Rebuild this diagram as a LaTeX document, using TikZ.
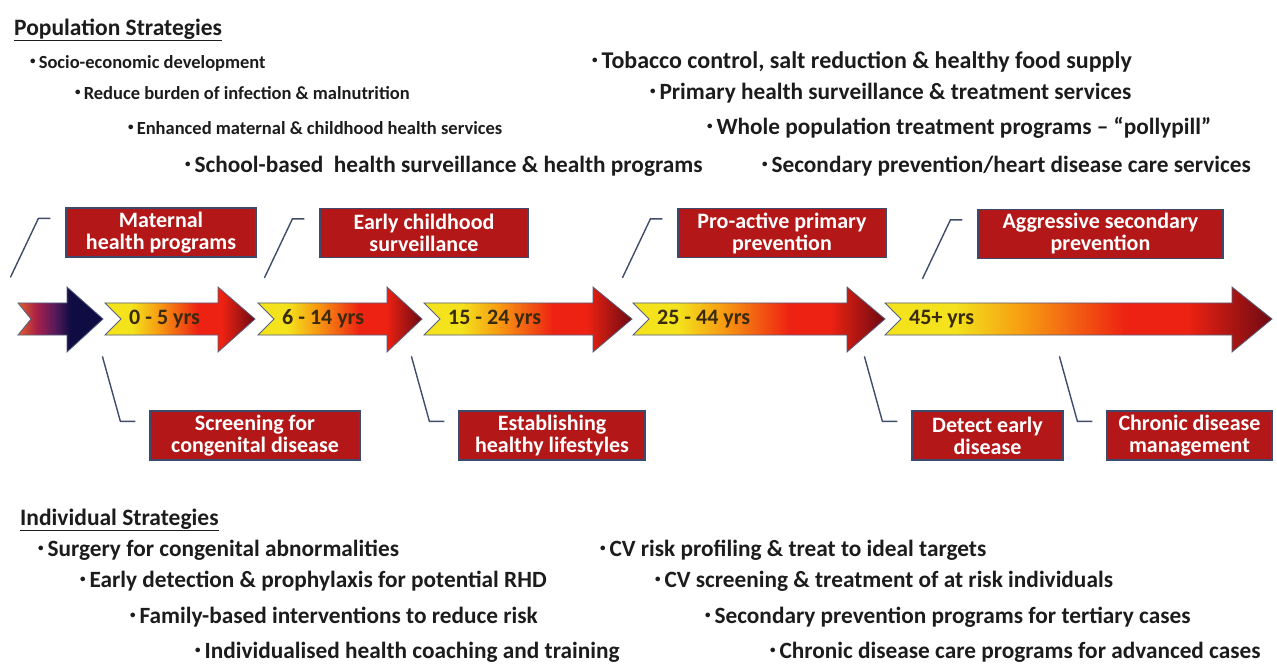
\documentclass[tikz,border=0pt]{standalone}
\usepackage{fontspec}
\setmainfont{Carlito}
\usetikzlibrary{positioning}

\definecolor{boxred}{HTML}{B31717}
\definecolor{boxedge}{HTML}{3D4A6E}
\definecolor{leadline}{HTML}{3F4D6B}
\definecolor{ageyellow}{HTML}{F3E21C}
\definecolor{ageorange}{HTML}{F79A12}
\definecolor{agered}{HTML}{EE2212}
\definecolor{agedark}{HTML}{6E0A12}
\definecolor{agetext}{HTML}{3A2A0C}
\definecolor{birthorange}{HTML}{E0602C}
\definecolor{birthcrimson}{HTML}{A82048}
\definecolor{birthpurple}{HTML}{5C1A5C}
\definecolor{birthnavy}{HTML}{0E0C42}
\definecolor{arrowedge}{HTML}{55607E}
\definecolor{inktext}{HTML}{1C1C1C}

\newcommand{\dotmark}{\raisebox{0.2em}{\fontsize{11}{11}\selectfont•}\,}

\pgfdeclarehorizontalshading{agefade}{100bp}{color(0bp)=(ageyellow); color(25bp)=(ageyellow); color(34bp)=(ageyellow); color(43bp)=(ageorange); color(56bp)=(agered); color(64bp)=(agered); color(75bp)=(agedark); color(100bp)=(agedark)}
\pgfdeclarehorizontalshading{birthfade}{100bp}{color(0bp)=(birthorange); color(25bp)=(birthorange); color(36bp)=(birthcrimson); color(46bp)=(birthpurple); color(56bp)=(birthnavy); color(100bp)=(birthnavy)}

\begin{document}
\begin{tikzpicture}[
    x=1pt, y=-1pt,
    font=\bfseries\fontsize{22}{22}\selectfont,
    heading/.style={
		anchor=west,
		inner sep=0pt,
		text=inktext,
		font=\bfseries\fontsize{23.5}{26}\selectfont
	},
    bullet/.style={
		anchor=west,
		inner sep=0pt,
		text=inktext,
		text height=0.7em,
		text depth=0.25em,
		font=\bfseries\fontsize{23.3}{24}\selectfont
	},
    minor/.style={
		bullet,
		font=\bfseries\fontsize{18.5}{20}\selectfont
	},
    box/.style={
		rectangle,
		draw=boxedge,
		line width=1.2pt,
		fill=boxred,
		text=white,
		align=center,
		minimum height=49pt,
		inner sep=2pt
	},
    agearrow/.style={
		shading=agefade,
		draw=arrowedge,
		line width=0.8pt
	},
    agelabel/.style={
		anchor=west,
		inner sep=0pt,
		text=agetext
	},
    leader/.style={
		draw=leadline,
		line width=1.4pt
	}
  ]
  \fill[white] (0,0) rectangle (1277,668);
  \useasboundingbox (0,0) rectangle (1277,668);

  % Population strategies
  \node[heading] (popTitle) at (14,30) {\underline{Population Strategies}};
  \node[minor] (pop1) at (30,66) {\dotmark Socio-economic development};
  \node[minor] (pop2) at (75,97) {\dotmark Reduce burden of infection \& malnutrition};
  \node[minor] (pop3) at (128,132) {\dotmark Enhanced maternal \& childhood health services};
  \node[bullet] (pop4) at (185,170) {\dotmark School-based~~health surveillance \& health programs};
  \node[bullet, font=\bfseries\fontsize{24}{24}\selectfont] (pop5) at (592,66) {\dotmark Tobacco control, salt reduction \& healthy food supply};
  \node[bullet] (pop6) at (650,97) {\dotmark Primary health surveillance \& treatment services};
  \node[bullet] (pop7) at (707,132) {\dotmark Whole population treatment programs – “pollypill”};
  \node[bullet] (pop8) at (762,170) {\dotmark Secondary prevention/heart disease care services};

  % the life course arrows
  \shade[shading=birthfade, draw=arrowedge, line width=0.8pt] (18,303) -- (67,303) -- (67,287) -- (103,319) -- (67,352) -- (67,335) -- (18,335) -- (31,319) -- cycle;
  \foreach \xl/\xh/\xt/\lab [count=\i] in {105/218/255/{0 - 5 yrs}, 258/387/422/{6 - 14 yrs}, 424/593/632/{15 - 24 yrs}, 633/847/885/{25 - 44 yrs}, 885/1232/1272/{45+ yrs}}{
    \shade[agearrow] (\xl,303) -- (\xh,303) -- (\xh,287) -- (\xt,319) -- (\xh,352) -- (\xh,335) -- (\xl,335) -- ({\xl+16},319) -- cycle;
    \node[agelabel] (age\i) at ({\xl+24},319) {\lab};
  }

  % blocks above the arrows
  \node[box, minimum width=190pt] (mat) at (161,232.5) {Maternal\\health programs};
  \node[box, minimum width=208pt] (ear) at (424,233) {Early childhood\\surveillance};
  \node[box, minimum width=208pt] (pro) at (782,233) {Pro-active primary\\prevention};
  \node[box, minimum width=245pt] (agg) at (1100.5,234) {Aggressive secondary\\prevention};

  % blocks below the arrows
  \node[box, minimum width=210pt] (scr) at (255,435.5) {Screening for\\congenital disease};
  \node[box, minimum width=186pt] (est) at (552,435.5) {Establishing\\healthy lifestyles};
  \node[box, minimum width=151pt] (det) at (987.5,435.5) {Detect early\\disease};
  \node[box, minimum width=165pt] (chr) at (1189.5,435.5) {Chronic disease\\management};

  \foreach \b in {mat,ear,pro,agg}
    \draw[leader] ([xshift=-15pt,yshift=-11pt]\b.north west) -- ++(-12,0) -- ++(-28,59);
  \foreach \b in {scr,est,det,chr}
    \draw[leader] ([xshift=-14pt,yshift=-11pt]\b.north west) -- ++(-15,0) -- ++(-18,-65);

  % Individual strategies
  \node[heading] (indTitle) at (20,520) {\underline{Individual Strategies}};
  \node[bullet] (ind1) at (38,554) {\dotmark Surgery for congenital abnormalities};
  \node[bullet] (ind2) at (80,585) {\dotmark Early detection \& prophylaxis for potential RHD};
  \node[bullet] (ind3) at (130,621) {\dotmark Family-based interventions to reduce risk};
  \node[bullet] (ind4) at (195,656) {\dotmark Individualised health coaching and training};
  \node[bullet] (ind5) at (600,554) {\dotmark CV risk profiling \& treat to ideal targets};
  \node[bullet] (ind6) at (655,585) {\dotmark CV screening \& treatment of at risk individuals};
  \node[bullet] (ind7) at (705,621) {\dotmark Secondary prevention programs for tertiary cases};
  \node[bullet] (ind8) at (770,656) {\dotmark Chronic disease care programs for advanced cases};
\end{tikzpicture}
\end{document}
